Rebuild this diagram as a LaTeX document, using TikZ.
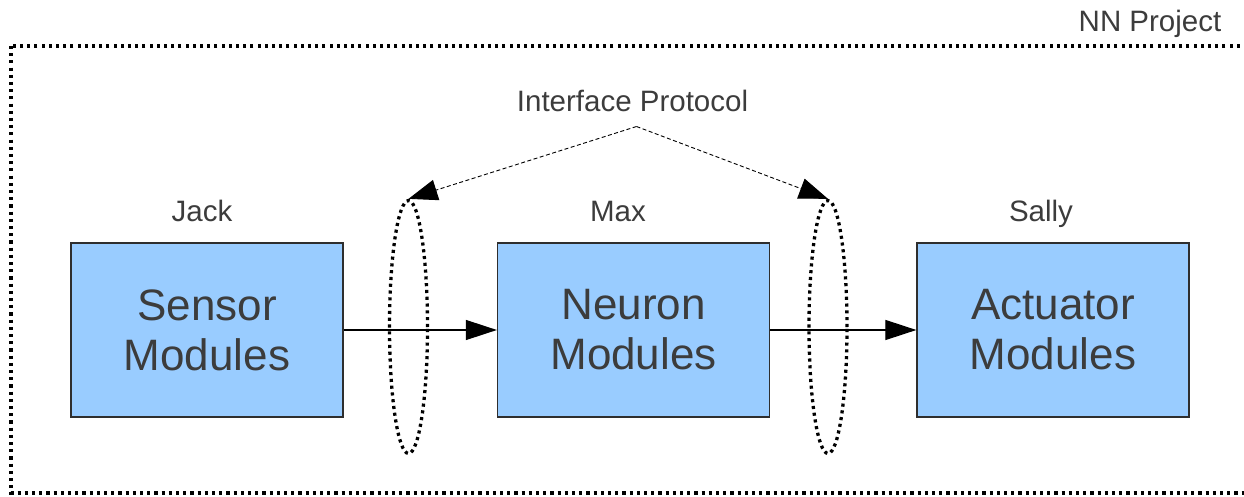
\documentclass[tikz,border=0pt]{standalone}
\usepackage{fontspec}
\setmainfont{Liberation Sans}
\usetikzlibrary{arrows.meta,shapes.geometric}
\definecolor{txt}{HTML}{3C3C3C}
\definecolor{boxfill}{HTML}{99CCFF}
\definecolor{boxline}{HTML}{2E2E2E}
\tikzset{
  modbox/.style={draw=boxline, line width=1.3pt, fill=boxfill, minimum width=272pt, minimum height=174pt, inner sep=0pt,
    align=center, text=txt, font=\fontsize{44pt}{50pt}\selectfont},
  lbl/.style={anchor=base, text=txt, inner sep=0pt, font=\fontsize{29.5pt}{34pt}\selectfont},
  flow/.style={line width=1.2pt, -{Triangle[length=31pt,width=20pt]}},
  ifarrow/.style={line width=0.9pt, dash pattern=on 4pt off 2.5pt, -{Triangle[length=29pt,width=21pt]}},
  ring/.style={ellipse, draw, line width=3.3pt, dash pattern=on 3.1pt off 3.7pt, minimum width=38pt, minimum height=253pt, inner sep=0pt},
  frame/.style={line width=3.1pt, dash pattern=on 3.1pt off 4.1pt}
}
\begin{document}
\begin{tikzpicture}[x=1pt,y=-1pt]
\useasboundingbox (0,0) rectangle (1244,497);
\draw[frame] (11,46) rectangle (1262,493);
\node[lbl] (nn) at (1150,32) {NN Project};
\node[lbl] (ip) at (632.5,112) {Interface Protocol};
\node[lbl] (jack) at (202,222) {Jack};
\node[lbl] (max) at (618,222) {Max};
\node[lbl] (sally) at (1041,222) {Sally};
\node[modbox] (sensor) at (207,330) {Sensor\\Modules};
\node[modbox] (neuron) at (633.5,330) {Neuron\\Modules};
\node[modbox] (actuator) at (1053,330) {Actuator\\Modules};
\draw[flow] (sensor.east) -- (neuron.west);
\draw[flow] (neuron.east) -- (actuator.west);
\node[ring] (ringA) at (408.5,327) {};
\node[ring] (ringB) at (828,327) {};
\coordinate (apex) at (636.5,126.5);
\draw[ifarrow] (apex) -- (ringA.north);
\draw[ifarrow] (apex) -- (ringB.north);
\end{tikzpicture}
\end{document}
